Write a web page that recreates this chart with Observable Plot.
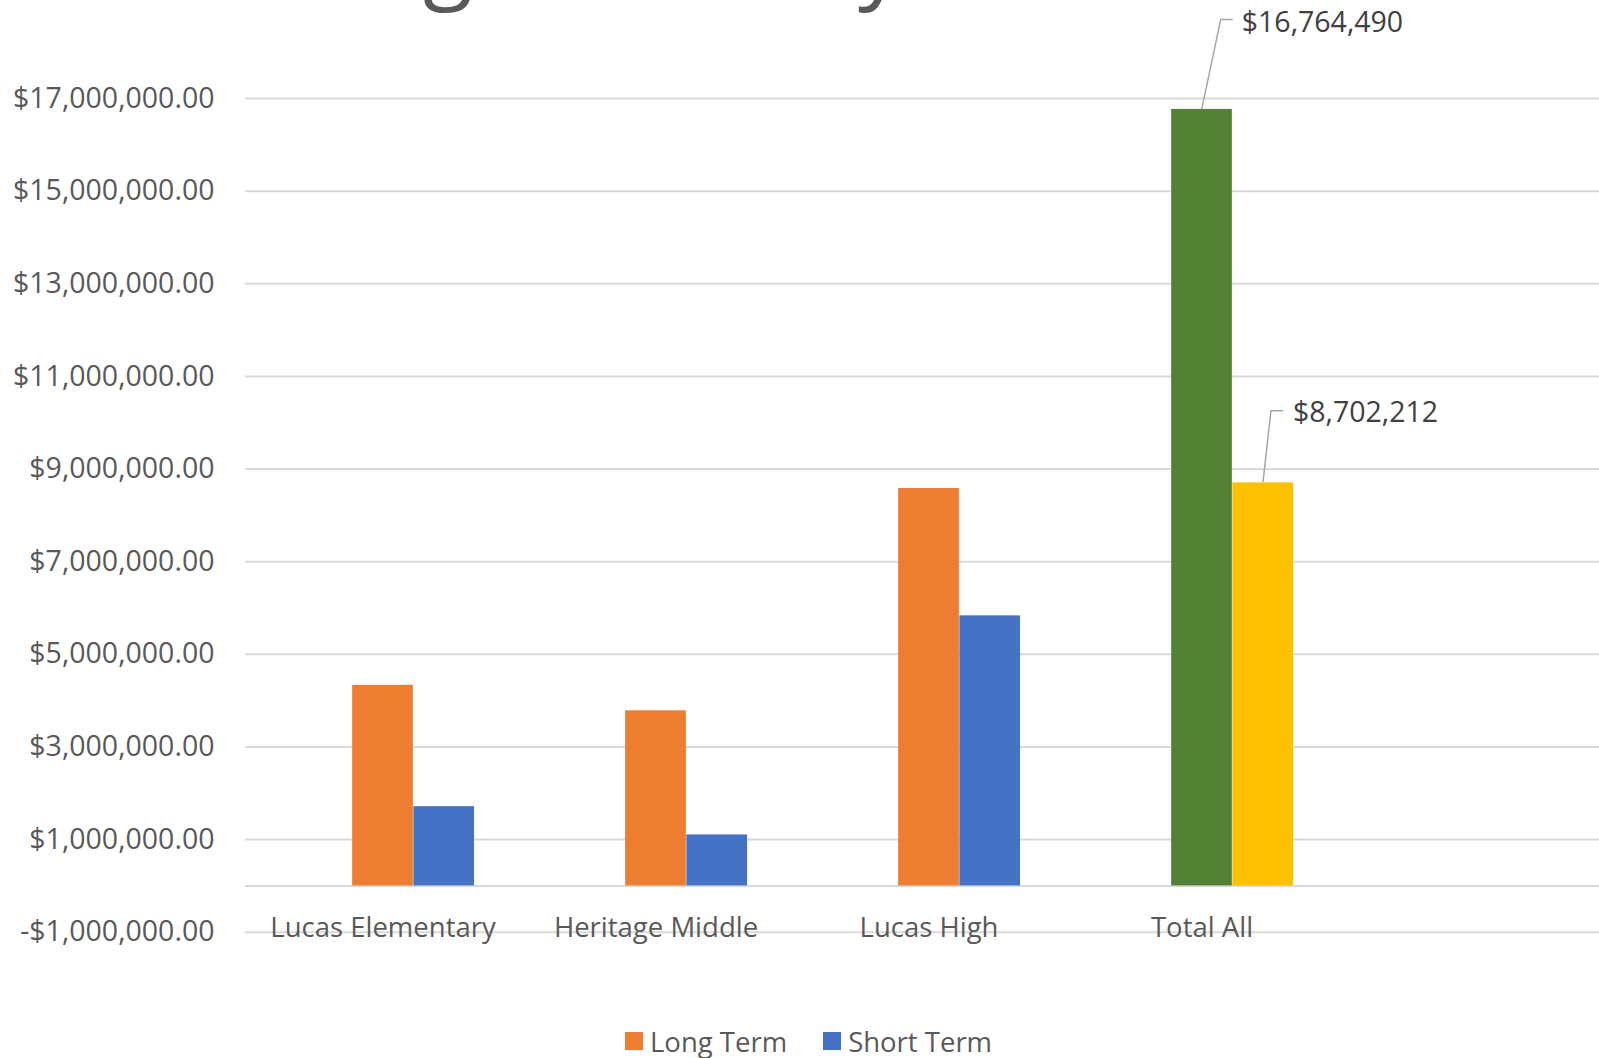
<!DOCTYPE html>
<html>
<head>
<meta charset="utf-8">
<script src="https://cdn.jsdelivr.net/npm/d3@7"></script>
<script src="https://cdn.jsdelivr.net/npm/@observablehq/plot@0.6"></script>
<style>
  html, body { margin: 0; padding: 0; background: #fff; overflow: hidden; }
  #wrap { position: relative; width: 1599px; height: 1058px; font-family: "Open Sans", sans-serif; overflow: hidden; }
  #title { position: absolute; left: 130px; top: -89px; font-size: 91px; line-height: 91px; color: #595959; white-space: nowrap; }
  #chart { position: absolute; left: 0; top: 0; }
  #legend { position: absolute; left: 625px; top: 1021px; display: flex; align-items: center; font-size: 27.5px; color: #595959; height: 40px; }
  #legend .item { display: flex; align-items: center; margin-right: 36px; }
  #legend .sw { width: 18px; height: 18px; margin-right: 7px; }
</style>
</head>
<body>
<div id="wrap">
  <div id="chart"></div>
  <div id="title">Funding Summary</div>
  <div id="legend"></div>
</div>
<script>
// ---- data ----
const categories = ["Lucas Elementary", "Heritage Middle", "Lucas High", "Total All"];
const longTerm  = [4330000, 3780000, 8580000, 16764490];
const shortTerm = [1710000, 1100000, 5830000, 8702212];
const seriesNames = ["Long Term", "Short Term"];
const longColors  = ["#ED7D31", "#ED7D31", "#ED7D31", "#548235"];
const shortColors = ["#4472C4", "#4472C4", "#4472C4", "#FFC000"];
const yTicks = [-1000000, 1000000, 3000000, 5000000, 7000000, 9000000, 11000000, 13000000, 15000000, 17000000];
const labelledCategory = "Total All";
const labelledValues = [16764490, 8702212];

// ---- table built from arrays ----
const longRows  = categories.map((c, i) => ({category: c, series: seriesNames[0], value: longTerm[i], color: longColors[i]}));
const shortRows = categories.map((c, i) => ({category: c, series: seriesNames[1], value: shortTerm[i], color: shortColors[i]}));

// ---- layout / style ----
const W = 1599, H = 1000;
const mLeft = 245, mTop = 98, mBottom = 68.3;
const bandStep = 273.5;            // category spacing
const slotW = 61.2;                // one bar width
const groupLeft = bandStep / 2 - 1.5 * slotW; // 3 slots per cluster, first empty
const grid = "#d9d9d9";

const fmtMoney = v => (v < 0 ? "-$" : "$") + d3.format(",.2f")(Math.abs(v));
const fmtLabel = v => "$" + d3.format(",")(v);

// annotation offsets (px) for the two labelled bars: leader elbow, tail, label anchor
const annot = [
  {slot: 1, elbow: [19, -89.5], tail: 12, text: [40, -87.5]},
  {slot: 2, elbow: [8, -71.6], tail: 12, text: [30, -71.6]}
];

function annotations(index, scales) {
  const x = scales.x, y = scales.y;
  const left = x(labelledCategory);
  const g = d3.create("svg:g");
  annot.forEach((a, i) => {
    const v = labelledValues[i];
    const cx = left + groupLeft + a.slot * slotW + slotW / 2;
    const cy = y(v);
    const ex = cx + a.elbow[0], ey = cy + a.elbow[1];
    g.append("path")
      .attr("d", `M${cx},${cy}L${ex},${ey}L${ex + a.tail},${ey}`)
      .attr("fill", "none").attr("stroke", "#a6a6a6").attr("stroke-width", 1.5);
    g.append("text")
      .attr("x", cx + a.text[0]).attr("y", cy + a.text[1])
      .attr("text-anchor", "start")
      .attr("dominant-baseline", "central")
      .attr("font-size", 28.5).attr("fill", "#404040")
      .attr("font-family", "Open Sans, sans-serif")
      .text(fmtLabel(v));
  });
  return g.node();
}

const chart = Plot.plot({
  width: W,
  height: H,
  marginLeft: mLeft,
  marginRight: 0,
  marginTop: mTop,
  marginBottom: mBottom,
  style: {fontFamily: "Open Sans, sans-serif", color: "#595959", background: "transparent", overflow: "visible"},
  x: {domain: categories, range: [mLeft, mLeft + bandStep * categories.length], padding: 0, axis: null},
  y: {domain: [-1000000, 17000000], axis: null},
  marks: [
    Plot.ruleY(yTicks, {stroke: grid, strokeWidth: 2}),
    Plot.ruleY([0], {stroke: grid, strokeWidth: 2}),
    Plot.barY(longRows, {x: "category", y: "value", fill: "color", insetLeft: groupLeft + slotW, insetRight: bandStep - groupLeft - 2 * slotW}),
    Plot.barY(shortRows, {x: "category", y: "value", fill: "color", insetLeft: groupLeft + 2 * slotW, insetRight: bandStep - groupLeft - 3 * slotW}),
    Plot.axisY(yTicks, {tickSize: 0, tickPadding: 31, tickFormat: fmtMoney, fontSize: 28.5, fill: "#595959", label: null}),
    Plot.text(categories, {x: d => d, frameAnchor: "bottom", dy: -4, lineAnchor: "middle", fontSize: 27.5, fill: "#595959"}),
    annotations
  ]
});
document.getElementById("chart").appendChild(chart);

// legend
const legend = d3.select("#legend");
[[seriesNames[0], longColors[0]], [seriesNames[1], shortColors[0]]].forEach(([name, col]) => {
  const it = legend.append("div").attr("class", "item");
  it.append("div").attr("class", "sw").style("background", col);
  it.append("span").text(name);
});
</script>
</body>
</html>
